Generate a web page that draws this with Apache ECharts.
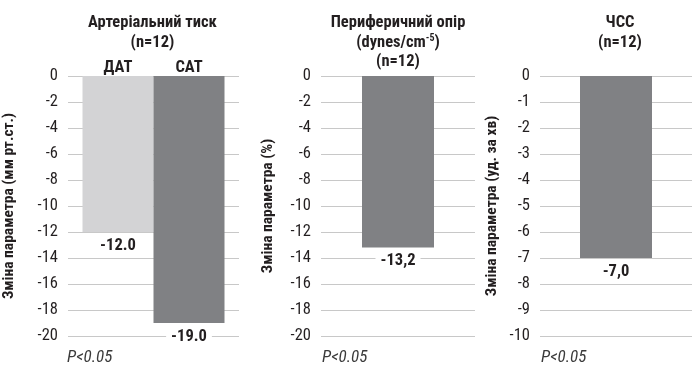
<!DOCTYPE html>
<html>
<head>
<meta charset="utf-8">
<script src="https://cdn.jsdelivr.net/npm/echarts@6/dist/echarts.min.js"></script>
<style>html,body{margin:0;padding:0;background:#fff}#c{width:692px;height:366px}</style>
</head>
<body>
<div id="c"></div>
<script>
// ---- data ----
const panelTitles = [
  ['Артеріальний тиск', '(n=12)'],
  ['Периферичний опір', '(dynes/cm{sup|-5})', '(n=12)'],
  ['ЧСС', '(n=12)']
];
const yAxisNames = ['Зміна параметра (мм рт.ст.)', 'Зміна параметра (%)', 'Зміна параметра (уд. за хв)'];
const yMin = [-20, -20, -10];
const yMax = [0, 0, 0];
const yStep = [2, 2, 1];
const bpCategories = ['ДАТ', 'САТ'];
const bpValues = [-12.0, -19.0];
const resistanceValues = [-13.2];
const hrValues = [-7.0];
const decimalSep = ['.', ',', ','];
const pNote = 'P<0.05';

// ---- style ----
const FONT = "'Liberation Sans Narrow','Roboto Condensed','DejaVu Sans Condensed','Arial Narrow',sans-serif";
const TXT = '#231f20';
const LIGHT = '#d3d3d5';
const DARK = '#808184';
const GRIDC = '#c8c8c8';

const grids = [
  {left: 66, width: 173, top: 76, height: 260},
  {left: 321, width: 154, top: 76, height: 260},
  {left: 540, width: 156, top: 76, height: 260}
];
const nameGaps = [51, 45, 40];

const xAxis = grids.map((g, i) => ({
  type: 'category', gridIndex: i, data: [''],
  axisLine: {show: false}, axisTick: {show: false}, axisLabel: {show: false}
}));
const yAxis = grids.map((g, i) => ({
  type: 'value', gridIndex: i, min: yMin[i], max: yMax[i], interval: yStep[i],
  name: yAxisNames[i], nameLocation: 'middle', nameGap: nameGaps[i],
  nameTextStyle: {fontFamily: FONT, fontSize: 15.5, fontWeight: 'bold', color: TXT},
  axisLine: {show: false}, axisTick: {show: false},
  axisLabel: {fontFamily: FONT, fontSize: 16.5, color: TXT, margin: 10},
  splitLine: {lineStyle: {color: GRIDC, width: 1}}
}));

function fmt(v, sep) { return v.toFixed(1).replace('.', sep); }
function valueLabel(sep) {
  return {
    show: true, position: 'bottom', distance: 4,
    fontFamily: FONT, fontSize: 16.5, fontWeight: 'bold', color: TXT,
    backgroundColor: '#fff', padding: [1, 5],
    formatter: p => fmt(p.value, sep)
  };
}
function nameBar(gi, stack, name) {
  return {
    type: 'bar', xAxisIndex: gi, yAxisIndex: gi, stack: stack, barWidth: 71, barGap: '0%',
    data: [0], itemStyle: {color: 'rgba(0,0,0,0)'}, silent: true,
    label: {show: true, position: 'top', distance: 0, fontFamily: FONT, fontSize: 16.5,
      fontWeight: 'bold', color: TXT, formatter: () => name}
  };
}
const series = [
  nameBar(0, 'dat', bpCategories[0]),
  {type: 'bar', xAxisIndex: 0, yAxisIndex: 0, stack: 'dat', barWidth: 71, barGap: '0%',
   data: [bpValues[0]], itemStyle: {color: LIGHT}, label: valueLabel(decimalSep[0])},
  nameBar(0, 'sat', bpCategories[1]),
  {type: 'bar', xAxisIndex: 0, yAxisIndex: 0, stack: 'sat', barWidth: 71, barGap: '0%',
   data: [bpValues[1]], itemStyle: {color: DARK}, label: valueLabel(decimalSep[0]), z: 3},
  {type: 'bar', xAxisIndex: 1, yAxisIndex: 1, barWidth: 72,
   data: resistanceValues, itemStyle: {color: DARK}, label: valueLabel(decimalSep[1])},
  {type: 'bar', xAxisIndex: 2, yAxisIndex: 2, barWidth: 72,
   data: hrValues, itemStyle: {color: DARK}, label: valueLabel(decimalSep[2])}
];

const graphic = [];
grids.forEach((g, i) => {
  graphic.push({
    type: 'text', x: g.left + g.width / 2 + (i === 2 ? 2 : 0), y: 13.5,
    style: {
      text: panelTitles[i].join('\n'), align: 'center', verticalAlign: 'top',
      fontFamily: FONT, fontSize: 16.5, fontWeight: 'bold', fill: TXT, lineHeight: 19.5,
      rich: {sup: {fontFamily: FONT, fontSize: 10, fontWeight: 'bold', fill: TXT, verticalAlign: 'top', padding: [0, 0, 6, 0]}}
    }
  });
  graphic.push({
    type: 'text', x: g.left + 1, y: 349.5,
    style: {text: pNote, fontFamily: FONT, fontSize: 17, fontStyle: 'italic', fill: '#3a3a3a', align: 'left', verticalAlign: 'top'}
  });
});

const chart = echarts.init(document.getElementById('c'), null, {renderer: 'canvas'});
chart.setOption({
  animation: false,
  backgroundColor: '#fff',
  grid: grids,
  xAxis: xAxis,
  yAxis: yAxis,
  series: series,
  graphic: graphic
});
</script>
</body>
</html>
